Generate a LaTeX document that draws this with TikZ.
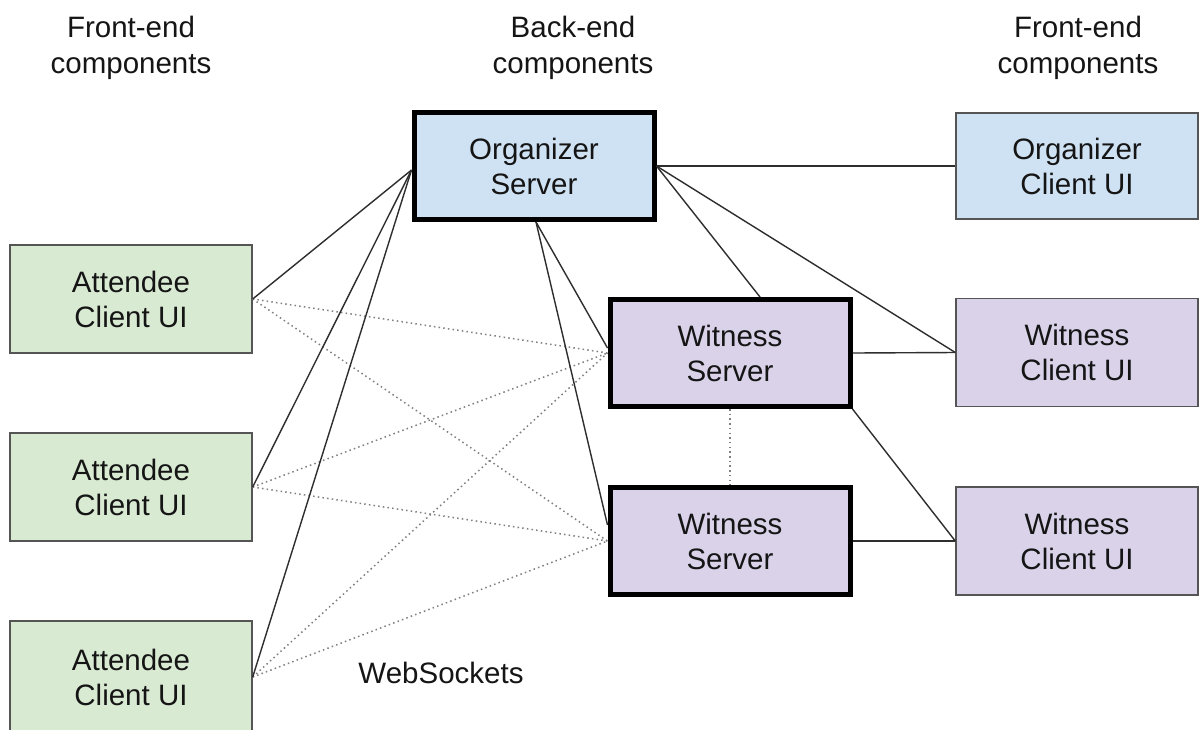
\documentclass[tikz,border=0pt]{standalone}
\usepackage{fontspec}
\setmainfont{Liberation Sans}
\definecolor{attfill}{HTML}{D9EAD3}
\definecolor{orgfill}{HTML}{CFE2F3}
\definecolor{witfill}{HTML}{D9D2E9}
\definecolor{thinedge}{HTML}{555555}
\definecolor{wire}{HTML}{2E2E2E}
\definecolor{dotwire}{HTML}{808080}
\definecolor{txt}{HTML}{151515}
\tikzset{
  boxtext/.style={font=\fontsize{29.5}{35}\selectfont, text=txt, align=center},
  clientbox/.style={boxtext, rectangle, draw=thinedge, line width=1.4pt,
    minimum width=242pt, minimum height=108pt, inner sep=0pt},
  serverbox/.style={boxtext, rectangle, draw=black, line width=5pt,
    minimum width=240pt, minimum height=107pt, inner sep=0pt},
  header/.style={font=\fontsize{29.5}{36}\selectfont, text=txt, align=center},
  link/.style={draw=wire, line width=1.4pt},
  socket/.style={draw=dotwire, line width=1.5pt, dash pattern=on 1.5pt off 3.2pt}
}
\begin{document}
\begin{tikzpicture}[x=1pt, y=-1pt]
\useasboundingbox[fill=white] (0,0) rectangle (1199,729);

% column headings
\node[header] (hleft)  at (131,48)  {Front-end\\components};
\node[header] (hmid)   at (573,48)  {Back-end\\components};
\node[header] (hright) at (1078,48) {Front-end\\components};

% attendee clients
\node[clientbox, fill=attfill] (att1) at (131,299) {Attendee\\Client UI};
\node[clientbox, fill=attfill] (att2) at (131,487) {Attendee\\Client UI};
\node[clientbox, fill=attfill, minimum height=112pt] (att3) at (131,677) {Attendee\\Client UI};

% servers
\node[serverbox, fill=orgfill] (org) at (534,166) {Organizer\\Server};
\node[serverbox, fill=witfill] (ws1) at (730,353) {Witness\\Server};
\node[serverbox, fill=witfill] (ws2) at (730,541) {Witness\\Server};

% right-hand clients
\node[clientbox, fill=orgfill, minimum height=106pt] (oc)  at (1077,166) {Organizer\\Client UI};
\node[clientbox, fill=witfill] (wc1) at (1077,352.5) {Witness\\Client UI};
\node[clientbox, fill=witfill] (wc2) at (1077,541) {Witness\\Client UI};

\node[boxtext] (ws) at (441,673) {WebSockets};

% websocket links from attendees to witnesses
\foreach \a in {att1,att2,att3}{
  \draw[socket] (\a.east) -- (ws1.west);
  \draw[socket] (\a.east) -- (ws2.west);
}
\draw[socket] (ws1.south) -- (ws2.north);

% attendees to organizer server
\foreach \a in {att1,att2,att3}{
  \draw[link] (\a.east) -- ([yshift=-4pt]org.west);
}

% organizer server to witness servers
\draw[link] ([xshift=2pt]org.south) -- ([yshift=5pt]ws1.west);
\draw[link] ([xshift=2pt]org.south) -- ([yshift=16pt]ws2.west);

% organizer server to right-hand side
\draw[link] (org.east) -- (oc.west);
\draw[link] (org.east) -- ([xshift=30pt]ws1.north);
\draw[link] (org.east) -- (wc1.west);

% witness servers to witness clients
\draw[link] (ws1.east) -- (wc1.west);
\draw[link] (ws1.south east) -- (wc2.west);
\draw[link] (ws2.east) -- (wc2.west);
\end{tikzpicture}
\end{document}
